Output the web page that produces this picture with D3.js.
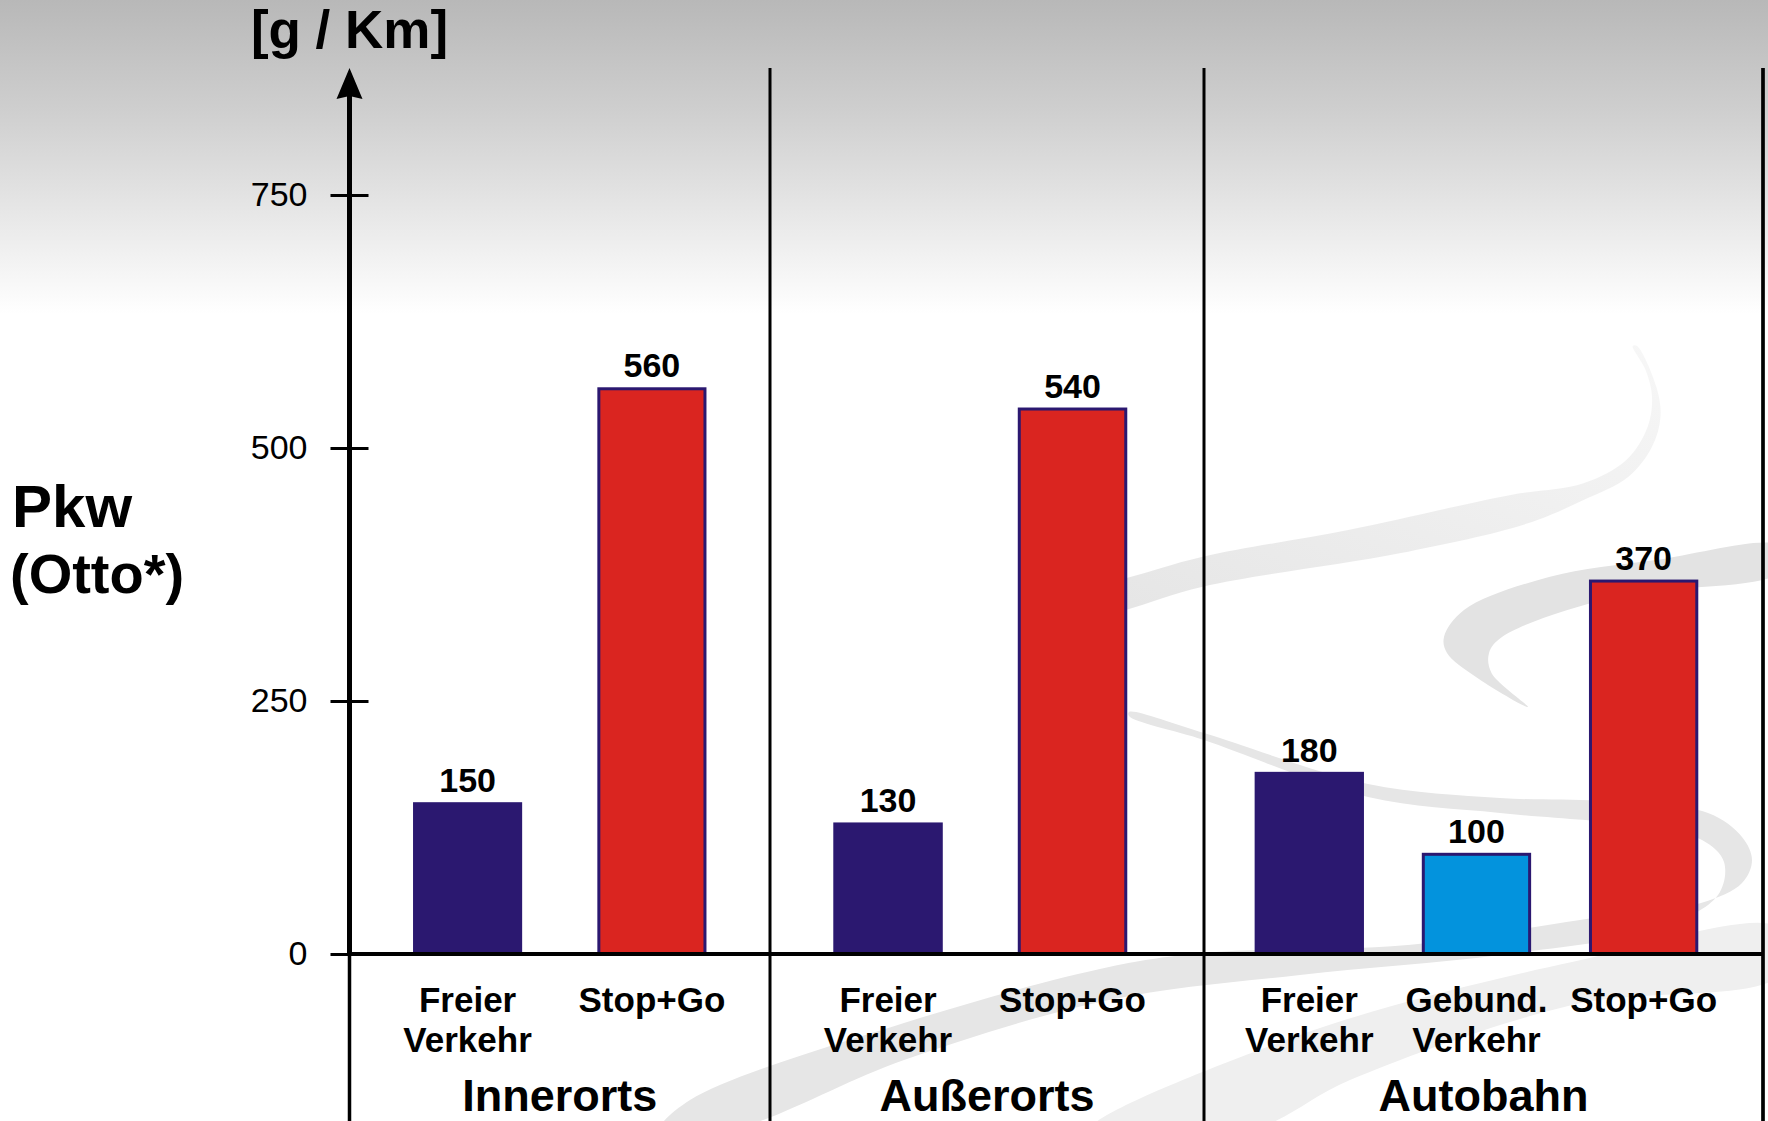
<!DOCTYPE html>
<html>
<head>
<meta charset="utf-8">
<script src="https://cdn.jsdelivr.net/npm/d3@7"></script>
<style>
  html, body { margin: 0; padding: 0; background: #ffffff; }
  svg { display: block; font-family: "Liberation Sans", Arial, Helvetica, sans-serif; }
</style>
</head>
<body>
<svg id="chart" width="1768" height="1121"></svg>
<script>
// ---------------- data ----------------
const groups       = ["Innerorts", "Außerorts", "Autobahn"];
const barGroup     = ["Innerorts", "Innerorts", "Außerorts", "Außerorts", "Autobahn", "Autobahn", "Autobahn"];
const barCategory  = [["Freier", "Verkehr"], ["Stop+Go"], ["Freier", "Verkehr"], ["Stop+Go"],
                      ["Freier", "Verkehr"], ["Gebund.", "Verkehr"], ["Stop+Go"]];
const barKind      = ["frei", "stop", "frei", "stop", "frei", "gebund", "stop"];
const barValues    = [150, 560, 130, 540, 180, 100, 370];
const yTicks       = [0, 250, 500, 750];
const yUnitLabel   = "[g / Km]";
const seriesTitle  = ["Pkw", "(Otto*)"];

// ---------------- layout / style ----------------
const W = 1768, H = 1121;
const plotLeft = 349.5, plotRight = 1763, plotTop = 68;
const groupWeights = [420.5, 434, 559];
const bandLayout = [
  { pi: 0.408,  po: 0.3447, align: 0.5   },
  { pi: 0.4065, po: 0.3795, align: 0.452 },
  { pi: 0.346,  po: 0.345,  align: 0.439 }
];
const kindFill = { frei: "#2b1870", stop: "#da2520", gebund: "#0393dd" };
const kindStroke = { frei: null, stop: "#2b1870", gebund: "#2b1870" };
const strokeW = 3;

const svg = d3.select("#chart");
const defs = svg.append("defs");

// background gradient
const bg = defs.append("linearGradient").attr("id", "bg")
  .attr("x1", 0).attr("y1", 0).attr("x2", 0).attr("y2", 1);
bg.append("stop").attr("offset", 0).attr("stop-color", "#b8b8b8");
bg.append("stop").attr("offset", 0.1).attr("stop-color", "#cfcfcf");
bg.append("stop").attr("offset", 0.28).attr("stop-color", "#ffffff");
bg.append("stop").attr("offset", 1).attr("stop-color", "#ffffff");
svg.append("rect").attr("width", W).attr("height", H).attr("fill", "url(#bg)");

// decorative swoosh ribbons (background ornament)
const rg = defs.append("linearGradient").attr("id", "rib1")
  .attr("x1", 1).attr("y1", 0).attr("x2", 0).attr("y2", 1);
rg.append("stop").attr("offset", 0).attr("stop-color", "#f7f7f7");
rg.append("stop").attr("offset", 1).attr("stop-color", "#e4e4e4");

const ribbon = d3.line().curve(d3.curveCatmullRomClosed.alpha(0.5));
const ribbons = [
  { fill: "url(#rib1)", pts: [[1632.7,346],[1645.6,370],[1652,396.7],[1647.7,426.7],[1626.3,460],[1583.5,483.3],
      [1510.8,495],[1348.2,530],[1202.7,556.7],[1125.7,578.3],[1060,595],
      [1060,628],[1125.7,610],[1202.7,586.7],[1399.5,553.3],[1527.9,523.3],[1583.5,500],[1628.4,476.7],
      [1652,446.7],[1660.5,416.7],[1656.3,386.7],[1637,346]] },
  { fill: "#e3e3e3", pts: [[1780,546],[1656,560],[1549,577],[1464,610],[1444,637],[1447,653],[1476,677],[1528,707],
      [1491.5,673],[1489,653],[1502,637],[1613.5,597],[1780,572]] },
  { fill: "#e6e6e6", pts: [[1129,712],[1204,733],[1368,784],[1500,798],[1600,801],[1708,813],[1742,837],[1752,860],
      [1742,883],[1701,903],[1580,920],[1408,945],[1204,953],[1109,967],[904,1023],[690,1100],[660,1130],
      [730,1130],[904,1060],[1109,1000],[1300,975],[1500,955],[1660,928],[1718,895],[1724,862],[1702,840],
      [1640,826],[1500,813],[1368,797],[1204,740],[1129,716]] },
  { fill: "#efefef", pts: [[1090,1130],[1300,1035],[1572,962],[1780,928],[1780,975],[1572,1005],[1350,1080],[1250,1130]] }
];
svg.append("g").selectAll("path").data(ribbons).join("path")
  .attr("d", d => ribbon(d.pts)).attr("fill", d => d.fill);

// ---------------- scales ----------------
const y = d3.scaleLinear().domain([0, 750]).range([954, 195]);
const cum = [0]; groupWeights.forEach(w => cum.push(cum[cum.length - 1] + w));
const gx = d3.scaleLinear().domain([0, d3.sum(groupWeights)]).range([plotLeft, plotRight]);
const groupEdges = cum.map(c => gx(c));

const bars = barValues.map((v, i) => ({ i, v, group: barGroup[i], cat: barCategory[i], kind: barKind[i] }));
const bandScales = groups.map((g, gi) => {
  const idx = bars.filter(b => b.group === g).map(b => b.i);
  return d3.scaleBand().domain(idx).range([groupEdges[gi], groupEdges[gi + 1]])
    .paddingInner(bandLayout[gi].pi).paddingOuter(bandLayout[gi].po).align(bandLayout[gi].align);
});
bars.forEach(b => {
  const s = bandScales[groups.indexOf(b.group)];
  b.x0 = s(b.i); b.bw = s.bandwidth(); b.cx = b.x0 + b.bw / 2;
});

// ---------------- bars ----------------
svg.append("g").selectAll("rect").data(bars).join("rect")
  .attr("x", d => kindStroke[d.kind] ? d.x0 + strokeW / 2 : d.x0)
  .attr("width", d => kindStroke[d.kind] ? d.bw - strokeW : d.bw)
  .attr("y", d => kindStroke[d.kind] ? y(d.v) + strokeW / 2 : y(d.v))
  .attr("height", d => y(0) - y(d.v) - (kindStroke[d.kind] ? strokeW / 2 : 0))
  .attr("fill", d => kindFill[d.kind])
  .attr("stroke", d => kindStroke[d.kind] || "none")
  .attr("stroke-width", strokeW);

// value labels
svg.append("g").selectAll("text").data(bars).join("text")
  .attr("x", d => d.cx).attr("y", d => y(d.v) - 10)
  .attr("text-anchor", "middle").attr("font-weight", "bold").attr("font-size", 34)
  .attr("fill", "#000").text(d => d.v);

// ---------------- frame lines ----------------
const lines = svg.append("g").attr("stroke", "#000");
// separators
lines.selectAll("line.sep").data(groupEdges.slice(1)).join("line").attr("class", "sep")
  .attr("x1", d => d).attr("x2", d => d).attr("y1", plotTop).attr("y2", H)
  .attr("stroke-width", (d, i) => i === groupEdges.length - 2 ? 3.7 : 3);
// baseline
lines.append("line").attr("x1", plotLeft).attr("x2", plotRight).attr("y1", y(0)).attr("y2", y(0))
  .attr("stroke-width", 4);
// y axis line (arrow)
lines.append("line").attr("x1", plotLeft).attr("x2", plotLeft).attr("y1", 96).attr("y2", y(0))
  .attr("stroke-width", 5);
lines.append("line").attr("x1", plotLeft).attr("x2", plotLeft).attr("y1", y(0)).attr("y2", H)
  .attr("stroke-width", 3.5);
svg.append("path")
  .attr("d", `M${plotLeft},68 L${plotLeft + 13},99 L${plotLeft},96 L${plotLeft - 13},99 Z`)
  .attr("fill", "#000");

// y axis ticks via d3 axis
const yAxis = d3.axisLeft(y).tickValues(yTicks).tickSize(38).tickPadding(23).tickFormat(d3.format("d"));
const ya = svg.append("g").attr("transform", `translate(${plotLeft + 19},0)`).call(yAxis);
ya.select(".domain").remove();
ya.selectAll(".tick line").attr("stroke", "#000").attr("stroke-width", 3);
ya.selectAll(".tick text").attr("fill", "#000").attr("font-size", 34)
  .attr("font-family", '"Liberation Sans", Arial, sans-serif');

// unit label
svg.append("text").attr("x", plotLeft).attr("y", 48).attr("text-anchor", "middle")
  .attr("font-weight", "bold").attr("font-size", 53).attr("fill", "#000").text(yUnitLabel);

// series title
svg.append("text").attr("x", 12).attr("y", 527).attr("font-weight", "bold").attr("font-size", 60)
  .attr("fill", "#000").text(seriesTitle[0]);
svg.append("text").attr("x", 10).attr("y", 593).attr("font-weight", "bold").attr("font-size", 56)
  .attr("fill", "#000").text(seriesTitle[1]);

// category labels
const cl = svg.append("g").selectAll("text").data(bars).join("text")
  .attr("text-anchor", "middle").attr("font-weight", "bold").attr("font-size", 35).attr("fill", "#000");
cl.selectAll("tspan").data(d => d.cat.map((t, k) => ({ t, k, x: d.cx }))).join("tspan")
  .attr("x", d => d.x).attr("y", d => 1012 + d.k * 40).text(d => d.t);

// group labels
svg.append("g").selectAll("text").data(groups).join("text")
  .attr("x", (d, i) => (groupEdges[i] + groupEdges[i + 1]) / 2).attr("y", 1111)
  .attr("text-anchor", "middle").attr("font-weight", "bold").attr("font-size", 45)
  .attr("fill", "#000").text(d => d);
</script>
</body>
</html>
